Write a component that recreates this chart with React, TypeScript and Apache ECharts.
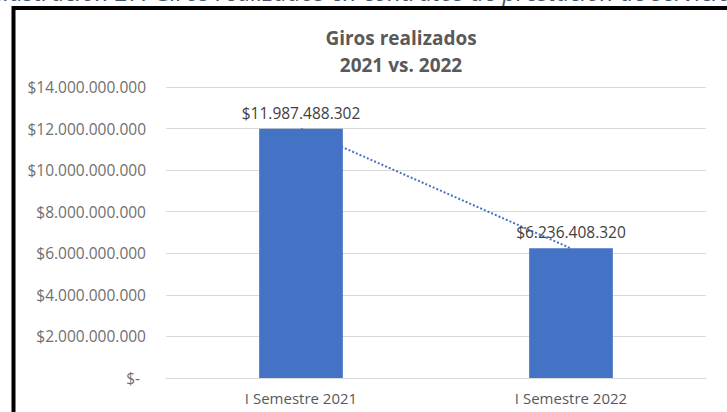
import React, { useEffect, useRef } from "react";
import * as echarts from "echarts";

const categories = ["I Semestre 2021", "I Semestre 2022"];
const values = [11987488302, 6236408320];
const titleLines = ["Giros realizados", "2021 vs. 2022"];
const caption = "Ilustración 27. Giros realizados en contratos de prestación de servicios";

const fmt = (v: number) => "$" + Math.round(v).toString().replace(/\B(?=(\d{3})+(?!\d))/g, ".");

export default function App() {
  const ref = useRef<HTMLDivElement>(null);
  useEffect(() => {
    if (!ref.current) return;
    const chart = echarts.init(ref.current, undefined, { renderer: "svg" });
    const font = "Open Sans";
    chart.setOption({
      animation: false,
      backgroundColor: "#ffffff",
      textStyle: { fontFamily: font },
      title: {
        text: titleLines.join("\n"),
        left: 396,
        top: 19,
        textAlign: "center",
        textStyle: { fontFamily: font, fontSize: 19, fontWeight: "bold", color: "#595959", lineHeight: 27 },
      },
      graphic: [
        {
          type: "text",
          left: -3,
          top: -21,
          style: { text: caption, font: "italic 24px 'Open Sans'", fill: "#44546a" },
        },
        {
          type: "rect",
          shape: { x: 13.5, y: 8, width: 800, height: 500 },
          style: { fill: "none", stroke: "#000000", lineWidth: 4 },
        },
      ],
      grid: { left: 166, right: 21, top: 87, bottom: 34 },
      xAxis: {
        type: "category",
        data: categories,
        axisLine: { lineStyle: { color: "#d9d9d9" } },
        axisTick: { show: false },
        axisLabel: { color: "#595959", fontSize: 15, fontFamily: font, margin: 12 },
      },
      yAxis: {
        type: "value",
        min: 0,
        max: 14000000000,
        interval: 2000000000,
        axisLine: { show: false },
        axisTick: { show: false },
        splitLine: { lineStyle: { color: "#d9d9d9" } },
        axisLabel: {
          color: "#707070",
          fontSize: 15.5,
          fontFamily: font,
          margin: 20,
          formatter: (v: number) => (v === 0 ? "{z|$-}" : fmt(v)),
          rich: { z: { color: "#707070", fontSize: 15.5, fontFamily: font, padding: [0, 6, 0, 0] } },
        },
      },
      series: [
        {
          type: "line",
          data: values,
          symbol: "none",
          z: 1,
          lineStyle: { color: "#4472C4", width: 2, type: "dotted" },
        },
        {
          type: "bar",
          data: values,
          barWidth: "31%",
          z: 2,
          itemStyle: { color: "#4472C4" },
          label: {
            show: true,
            position: "top",
            distance: 8,
            formatter: (p: any) => fmt(p.value),
            color: "#404040",
            fontSize: 15.5,
            fontFamily: font,
          },
        },
      ],
    });
    return () => chart.dispose();
  }, []);
  return <div ref={ref} style={{ position: "fixed", left: 0, top: 0, width: 727, height: 412 }} />;
}
